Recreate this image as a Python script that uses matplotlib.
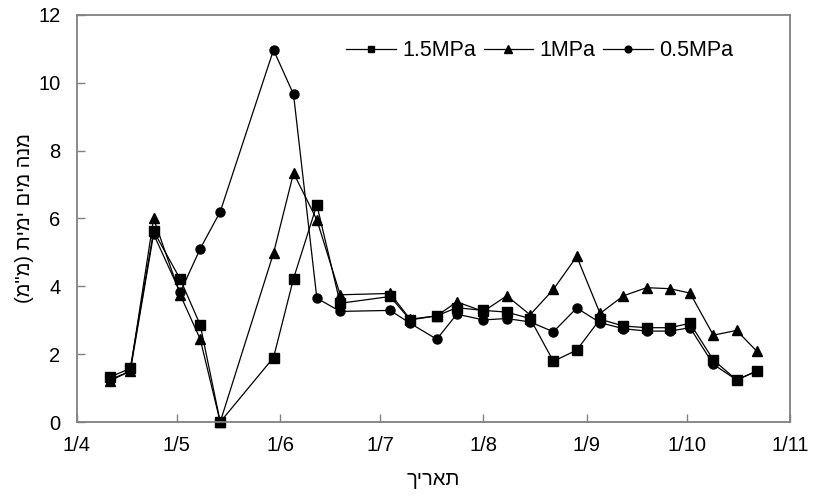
import datetime as dt
import matplotlib
matplotlib.use('Agg')
import matplotlib.pyplot as plt
import matplotlib.dates as mdates
from matplotlib.ticker import FuncFormatter

# measurement dates (day/month)
dates = ['11/4', '17/4', '24/4', '2/5', '8/5', '14/5', '30/5', '5/6', '12/6', '19/6',
         '4/7', '10/7', '18/7', '24/7', '1/8', '8/8', '15/8', '22/8', '29/8', '5/9',
         '12/9', '19/9', '26/9', '2/10', '9/10', '16/10', '22/10']

p15 = [1.33, 1.58, 5.63, 4.21, 2.86, 0.0, 1.9, 4.23, 6.4, 3.5,
       3.7, 3.01, 3.13, 3.37, 3.29, 3.24, 3.05, 1.79, 2.12, 3.03,
       2.83, 2.78, 2.78, 2.91, 1.83, 1.24, 1.5]
p10 = [1.22, 1.5, 6.0, 3.75, 2.44, 0.0, 4.98, 7.34, 5.96, 3.75,
       3.79, 3.03, 3.13, 3.54, 3.26, 3.72, 3.16, 3.91, 4.88, 3.2,
       3.72, 3.96, 3.93, 3.8, 2.56, 2.7, 2.09]
p05 = [1.25, 1.5, 5.54, 3.82, 5.11, 6.2, 10.97, 9.66, 3.65, 3.26,
       3.29, 2.91, 2.44, 3.18, 3.01, 3.05, 2.95, 2.66, 3.36, 2.93,
       2.75, 2.68, 2.68, 2.78, 1.7, 1.24, 1.5]

labels = ['1.5MPa', '1MPa', '0.5MPa']
ylabel = 'מנה מים ימית (מ"מ)'
xlabel = 'תאריך'


def visual(s):
	# matplotlib has no bidi, so flip the hebrew to display order
	return s[::-1].translate(str.maketrans('()', ')('))


def to_date(s):
	d, m = s.split('/')
	return dt.date(2000, int(m), int(d))


x = [to_date(s) for s in dates]

plt.rcParams['font.family'] = ['Liberation Sans', 'DejaVu Sans']
fig = plt.figure(figsize=(8.24, 4.98), dpi=100)
ax = fig.add_axes([0.0934, 0.1526, 0.8653, 0.8174])

kw = dict(color='black', lw=0.9, markersize=6.5, clip_on=False)
l05, = ax.plot(x, p05, marker='o', label=labels[2], **kw)
l10, = ax.plot(x, p10, marker='^', label=labels[1], **dict(kw, markersize=7.5))
l15, = ax.plot(x, p15, marker='s', label=labels[0], **kw)

ax.set_xlim(dt.date(2000, 4, 1), dt.date(2000, 11, 1))
ax.set_ylim(0, 12)
ax.set_yticks(range(0, 13, 2))
ax.xaxis.set_major_locator(mdates.MonthLocator())
ax.xaxis.set_major_formatter(FuncFormatter(lambda v, p: '%d/%d' % (mdates.num2date(v).day, mdates.num2date(v).month)))

for sp in ax.spines.values():
	sp.set_color('#808080')
	sp.set_linewidth(1.3)
ax.tick_params(direction='in', length=6, width=1, color='#808080', labelsize=14.5)
ax.tick_params(axis='y', pad=12)
ax.tick_params(axis='x', pad=10)

ax.set_xlabel(visual(xlabel), fontsize=14.5, labelpad=11)
ax.set_ylabel(visual(ylabel), fontsize=14.5, labelpad=3)

ax.legend([l15, l10, l05], labels, ncol=3, frameon=False, fontsize=15.5,
          loc='center', bbox_to_anchor=(0.649, 0.912), handlelength=2.3,
          handletextpad=0.3, columnspacing=0.35, markerscale=0.75)

fig.savefig('out.png', dpi=100)
